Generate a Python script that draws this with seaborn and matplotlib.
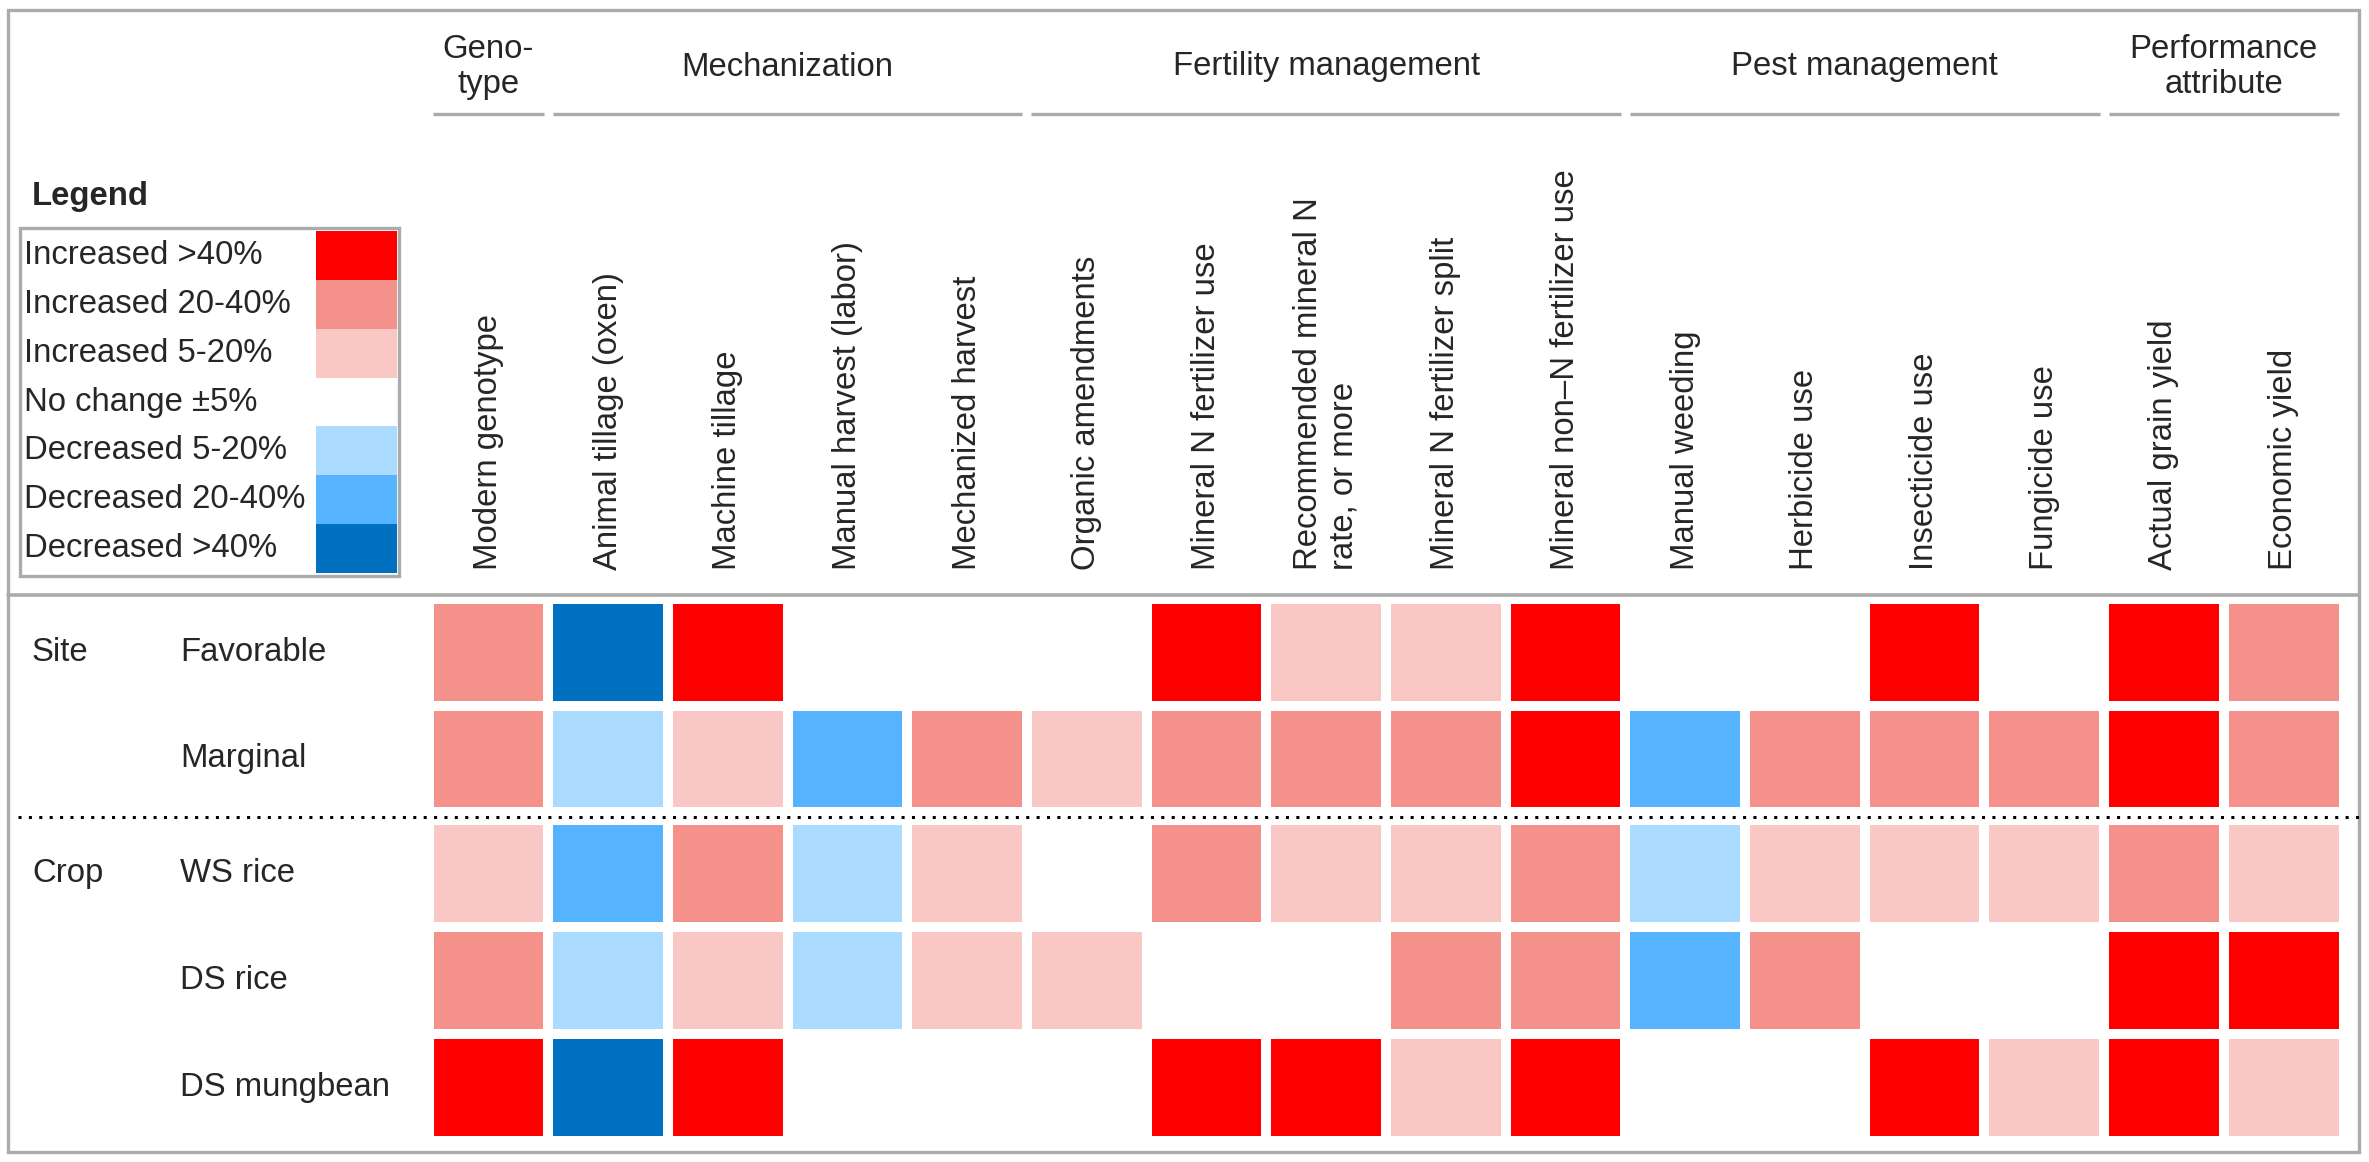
import numpy as np
import pandas as pd
import matplotlib
matplotlib.use('Agg')
import matplotlib.pyplot as plt
from matplotlib.colors import ListedColormap
from matplotlib.patches import Rectangle
import seaborn as sns

# Columns of the table (practices and performance attributes)
practices = ['Modern genotype', 'Animal tillage (oxen)', 'Machine tillage',
             'Manual harvest (labor)', 'Mechanized harvest', 'Organic amendments',
             'Mineral N fertilizer use', 'Recommended mineral N\nrate, or more',
             'Mineral N fertilizer split', 'Mineral non\u2013N fertilizer use',
             'Manual weeding', 'Herbicide use', 'Insecticide use', 'Fungicide use',
             'Actual grain yield', 'Economic yield']
groups = ['Geno-\ntype', 'Mechanization', 'Fertility management',
          'Pest management', 'Performance\nattribute']
group_sizes = [1, 4, 5, 4, 2]

site_rows = ['Favorable', 'Marginal']
crop_rows = ['WS rice', 'DS rice', 'DS mungbean']

# change class: 3 = increased >40%, 2 = 20-40%, 1 = 5-20%, 0 = no change,
# -1 = decreased 5-20%, -2 = 20-40%, -3 = >40%
favorable = [2, -3, 3, 0, 0, 0, 3, 1, 1, 3, 0, 0, 3, 0, 3, 2]
marginal = [2, -1, 1, -2, 2, 1, 2, 2, 2, 3, -2, 2, 2, 2, 3, 2]
ws_rice = [1, -2, 2, -1, 1, 0, 2, 1, 1, 2, -1, 1, 1, 1, 2, 1]
ds_rice = [2, -1, 1, -1, 1, 1, 0, 0, 2, 2, -2, 2, 0, 0, 3, 3]
ds_mungbean = [3, -3, 3, 0, 0, 0, 3, 3, 1, 3, 0, 0, 3, 1, 3, 1]

legend_labels = ['Increased >40%', 'Increased 20-40%', 'Increased 5-20%',
                 'No change \u00b15%', 'Decreased 5-20%', 'Decreased 20-40%',
                 'Decreased >40%']
legend_levels = [3, 2, 1, 0, -1, -2, -3]

# colours from -3 up to 3
level_colors = ['#0070c0', '#56b3ff', '#abdbff', '#ffffff', '#fac8c4', '#f4918a', '#ff0000']
cmap = ListedColormap(level_colors)

site_df = pd.DataFrame([favorable, marginal], index=site_rows, columns=practices)
crop_df = pd.DataFrame([ws_rice, ds_rice, ds_mungbean], index=crop_rows, columns=practices)
legend_df = pd.DataFrame({'level': legend_levels}, index=legend_labels)

sns.set_style('white')
plt.rcParams['font.family'] = ['Liberation Sans', 'DejaVu Sans']
fs = 23.7
gray = '#ababab'

W, H = 2369, 1162
fig = plt.figure(figsize=(W / 100, H / 100), dpi=100)


def px_box(x0, y0, x1, y1):
    return [x0 / W, 1 - y1 / H, (x1 - x0) / W, (y1 - y0) / H]


# background axes in pixel units for frame, lines and free text
bg = fig.add_axes([0, 0, 1, 1])
bg.set_xlim(0, W)
bg.set_ylim(H, 0)
bg.axis('off')

grid_left, grid_right = 428.5, 2343.5
ax_site = fig.add_axes(px_box(grid_left, 599, grid_right, 812))
ax_crop = fig.add_axes(px_box(grid_left, 820, grid_right, 1141))

hm_kw = dict(cmap=cmap, vmin=-3.5, vmax=3.5, cbar=False, linewidths=5.8, linecolor='white')
sns.heatmap(site_df, ax=ax_site, xticklabels=True, yticklabels=True, **hm_kw)
sns.heatmap(crop_df, ax=ax_crop, xticklabels=False, yticklabels=True, **hm_kw)

# column labels on top of the site block
ax_site.xaxis.set_ticks_position('top')
ax_site.tick_params(axis='x', length=0, pad=20.9, labelsize=fs, top=True, bottom=False,
                    labeltop=True, labelbottom=False)
plt.setp(ax_site.get_xticklabels(), rotation=90, ha='center', va='bottom', multialignment='left')

for ax in (ax_site, ax_crop):
    ax.set_facecolor('none')
    ax.set_xlabel('')
    ax.set_ylabel('')
    ax.tick_params(axis='y', length=0, pad=178.9, labelsize=fs)
    plt.setp(ax.get_yticklabels(), rotation=0, ha='left', va='center')
    for s in ax.spines.values():
        s.set_visible(False)

# group headers with underlines
pitch = (grid_right - grid_left) / len(practices)
start = 0
for name, n in zip(groups, group_sizes):
    x0 = grid_left + start * pitch + 4.5
    x1 = grid_left + (start + n) * pitch - 4.5
    bg.plot([x0, x1], [113.5, 113.5], color=gray, lw=2.4, solid_capstyle='butt')
    bg.text((x0 + x1) / 2, 67, name, ha='center', va='center', fontsize=fs, linespacing=1.15)
    start += n

# outer frame, header separator and dotted divider
bg.add_patch(Rectangle((8, 10), 2351, 1142, fill=False, edgecolor=gray, lw=2.4))
bg.plot([8, 2359], [595, 595], color=gray, lw=2.6)
bg.plot([18, 2359], [816.5, 816.5], color='black', lw=2.2, linestyle=(0, (1, 2.4)))

bg.text(32, 652.5, 'Site', ha='left', va='center', fontsize=fs)
bg.text(32, 873.5, 'Crop', ha='left', va='center', fontsize=fs)

# legend block
bg.text(32, 196, 'Legend', ha='left', va='center', fontsize=fs, fontweight='bold')
ax_leg = fig.add_axes(px_box(316, 231, 397, 573))
sns.heatmap(legend_df, ax=ax_leg, cmap=cmap, vmin=-3.5, vmax=3.5, cbar=False,
            xticklabels=False, yticklabels=True)
ax_leg.set_ylabel('')
ax_leg.tick_params(axis='y', length=0, pad=210.2, labelsize=fs)
plt.setp(ax_leg.get_yticklabels(), rotation=0, ha='left', va='center')
bg.add_patch(Rectangle((20, 228), 379, 348, fill=False, edgecolor=gray, lw=2.4))

fig.savefig('out.png', dpi=100)
